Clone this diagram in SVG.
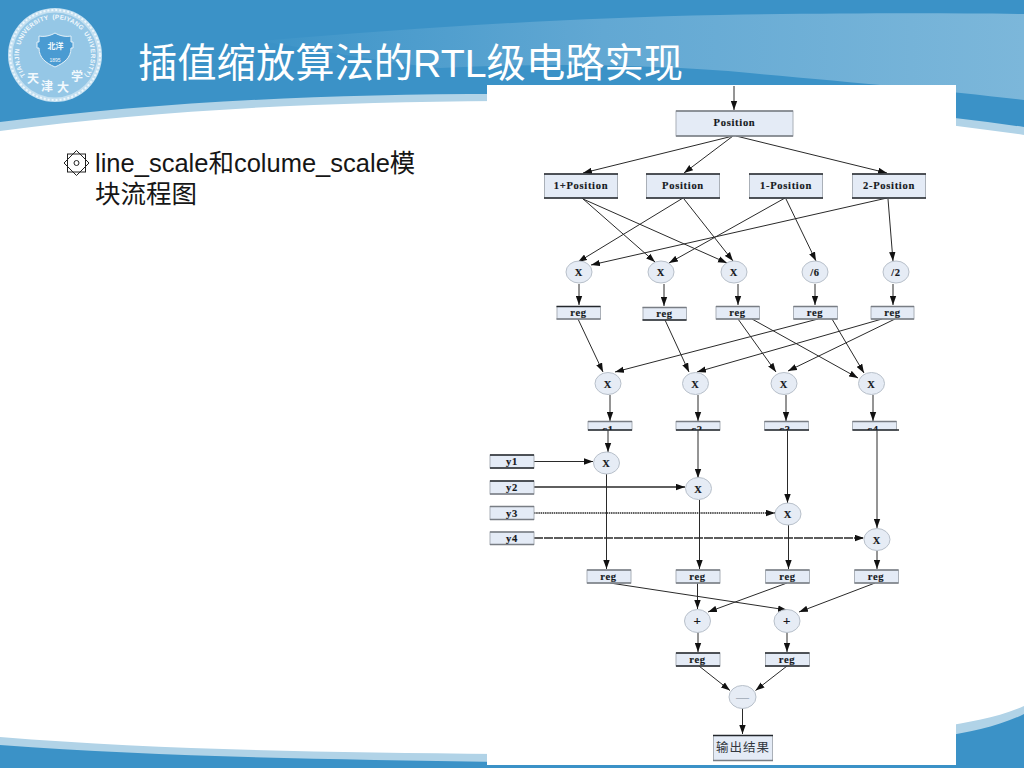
<svg xmlns="http://www.w3.org/2000/svg" width="1024" height="768" viewBox="0 0 1024 768">
<style>
.b{fill:#e4ebf6;stroke:#aab0b8;stroke-width:1}
.e{fill:#e6ecf5;stroke:#b8c0ca;stroke-width:1}
.d{stroke:#23272c;stroke-width:1.6;fill:none}
.g{stroke:#787d84;stroke-width:1.6;fill:none}
.t{font-family:"Liberation Serif","Times New Roman",serif;font-weight:700;fill:#15181c;text-anchor:middle;font-size:10.5px;letter-spacing:.7px;stroke:#15181c;stroke-width:.15}
.c line{stroke:#2a2a2a;stroke-width:1;fill:none;marker-end:url(#a)}
.c .k{stroke-width:1.7}
.c .s{stroke-width:1.6;stroke-dasharray:1.5 .7}
.c .h{stroke-width:1.6;stroke-dasharray:9 1}
.r{font-family:"Liberation Sans",sans-serif;font-size:6.3px;font-weight:700;fill:#f2f9fd}
.z{font-family:"Noto Sans CJK SC",sans-serif;font-size:12px;font-weight:700;fill:#f2f9fd;text-anchor:middle}
</style>
<defs>
<marker id="a" markerUnits="userSpaceOnUse" markerWidth="10" markerHeight="7" refX="9" refY="3.500" orient="auto"><path d="M0 0.300L9 3.500L0 6.700Z" fill="#111"/></marker>
<linearGradient id="sw" x1="0" x2="1" y1="0" y2="0"><stop offset="0" stop-color="#3d94c8"/><stop offset=".45" stop-color="#62a8d3"/><stop offset="1" stop-color="#7cb7da"/></linearGradient>
<path id="r1" d="M25.500 75.600A36 36 0 0 1 19.500 48.700"/>
<path id="r2" d="M20.400 45.100A36 36 0 0 1 48.700 19.500"/>
<path id="r3" d="M52.500 19.100A36 36 0 0 1 81.300 30.400"/>
<path id="r4" d="M83.800 33.300A36 36 0 0 1 84.500 75.600"/>
<clipPath id="cc"><rect x="480" y="418" width="440" height="12"/></clipPath>
</defs>
<g id="background">
<rect width="1024" height="768" fill="#fff"/>
<path d="M0 131C160 110 320 102 500 101C700 100 870 112 1024 135V60H0Z" fill="#b1d3e7"/>
<path d="M0 122C160 102 320 94 500 94C700 94 870 105 1024 127V0H0Z" fill="#3b92c7"/>
<path d="M260 41C420 28 560 18 720 15C840 13 940 13 1024 14V100C950 91 860 83 760 74C680 66 560 62 440 68C380 62 320 50 260 41Z" fill="url(#sw)"/>
<path d="M0 737C160 750 320 752 500 754V768H0Z" fill="#b1d3e7"/>
<path d="M0 745C160 757 320 759 500 762V768H0Z" fill="#3b92c7"/>
<path d="M940 727C970 722 1000 717 1024 706V768H940Z" fill="#b1d3e7"/>
<path d="M940 737C970 732 1000 726 1024 714V768H940Z" fill="#3b92c7"/>
<rect x="487" y="765" width="470" height="3" fill="#3b92c7"/>
</g>
<g id="logo">
<circle cx="55" cy="55" r="47" fill="#c4e0f1"/>
<circle cx="55" cy="55" r="45" fill="none" stroke="#eef7fc" stroke-width="2" stroke-dasharray="2 2"/>
<circle cx="55" cy="55" r="42.500" fill="#95c7e6"/>
<text class="r"><textPath href="#r1" textLength="28">TIANJIN</textPath></text>
<text class="r"><textPath href="#r2" textLength="40">UNIVERSITY</textPath></text>
<text class="r"><textPath href="#r3" textLength="32">(PEIYANG</textPath></text>
<text class="r"><textPath href="#r4" textLength="45">UNIVERSITY)</textPath></text>
<path d="M55 33C60 36 66 37 71 36V42H73V48H71C71 58 64 63 55 67C46 63 39 58 39 48H37V42H39V36C44 37 50 36 55 33Z" fill="#4a9bd2" stroke="#e4f1f9" stroke-width="1"/>
<text x="55.500" y="49" font-family="Noto Sans CJK SC,sans-serif" font-size="8" font-weight="700" fill="#f2f9fd" text-anchor="middle">北洋</text>
<text x="55" y="62" font-family="Liberation Sans,sans-serif" font-size="5" fill="#f2f9fd" text-anchor="middle">1895</text>
<text class="z" x="33" y="83">天</text><text class="z" x="47" y="91">津</text><text class="z" x="63" y="92">大</text><text class="z" x="77" y="81">学</text>
</g>
<text id="title" x="138" y="77" font-family="Liberation Sans,Noto Sans CJK SC,sans-serif" font-size="39.300" fill="#fff">插值缩放算法的RTL级电路实现</text>
<g id="bullet" fill="none" stroke="#222" stroke-width="1">
<path d="M76.500 150.500L89 163L76.500 175.500L64 163Z"/>
<rect x="67.500" y="154" width="18" height="18"/>
<circle cx="76.500" cy="163" r="2.500"/>
</g>
<text id="body" font-family="Liberation Sans,Noto Sans CJK SC,sans-serif" font-size="25.500" fill="#161616"><tspan x="95" y="172">line_scale和colume_scale模</tspan><tspan x="95" y="203">块流程图</tspan></text>
<rect id="panel" x="487" y="85" width="469" height="680" fill="#fff"/>
<g id="connectors" class="c">
<line x1="734" y1="86" x2="734" y2="110"/>
<line x1="733" y1="136" x2="583" y2="173"/>
<line x1="733" y1="136" x2="684" y2="173"/>
<line x1="736" y1="136" x2="887" y2="173"/>
<line x1="582" y1="198" x2="655" y2="262"/>
<line x1="583" y1="199" x2="727" y2="263"/>
<line x1="683" y1="198" x2="578" y2="262"/>
<line x1="684" y1="199" x2="733" y2="261"/>
<line x1="785" y1="198" x2="669" y2="263"/>
<line x1="786" y1="199" x2="816" y2="261"/>
<line x1="887" y1="198" x2="591" y2="265"/>
<line x1="888" y1="199" x2="893" y2="261"/>
<line x1="579" y1="284" x2="579" y2="305"/>
<line x1="664" y1="284" x2="664" y2="306"/>
<line x1="738" y1="284" x2="738" y2="305"/>
<line x1="815" y1="284" x2="815" y2="305"/>
<line x1="893" y1="284" x2="893" y2="305"/>
<line x1="578" y1="319" x2="603" y2="372"/>
<line x1="665" y1="320" x2="689" y2="372"/>
<line x1="738" y1="319" x2="776" y2="372"/>
<line x1="752" y1="319" x2="858" y2="378"/>
<line x1="818" y1="319" x2="615" y2="372"/>
<line x1="832" y1="319" x2="864" y2="373"/>
<line x1="882" y1="319" x2="697" y2="372"/>
<line x1="895" y1="319" x2="788" y2="371"/>
<line x1="610" y1="395" x2="610" y2="421"/>
<line x1="698" y1="395" x2="698" y2="421"/>
<line x1="786" y1="395" x2="786" y2="421"/>
<line x1="873" y1="395" x2="873" y2="421"/>
<line x1="608" y1="430" x2="608" y2="452"/>
<line x1="698" y1="430" x2="698" y2="478"/>
<line x1="787.500" y1="430" x2="787.500" y2="503"/>
<line x1="877" y1="430" x2="877" y2="528"/>
<line x1="534" y1="461.500" x2="593" y2="461.500"/>
<line class="k" x1="534" y1="487" x2="685" y2="487"/>
<line class="s" x1="534" y1="513" x2="775" y2="513"/>
<line class="h" x1="534" y1="538" x2="864" y2="538"/>
<line x1="606.500" y1="474" x2="606.500" y2="569"/>
<line x1="699.500" y1="500" x2="699.500" y2="569"/>
<line x1="788.500" y1="525" x2="788.500" y2="569"/>
<line x1="877" y1="551" x2="877" y2="569"/>
<line x1="610" y1="583" x2="787" y2="610"/>
<line x1="697.500" y1="583" x2="697.500" y2="609"/>
<line x1="787" y1="583" x2="708" y2="612"/>
<line x1="875" y1="583" x2="799" y2="612"/>
<line x1="698" y1="632" x2="698" y2="652"/>
<line x1="787" y1="632" x2="787" y2="652"/>
<line x1="699" y1="666" x2="730" y2="690.500"/>
<line x1="787" y1="666" x2="755.500" y2="690.500"/>
<line x1="742.500" y1="708" x2="742.500" y2="734"/>
</g>
<g id="n-position-top"><rect class="b" x="676" y="111" width="117" height="25"/><path class="g" d="M676 111H793M676 136H793"/><text class="t" x="734.500" y="126">Position</text></g>
<g id="n-1plus"><rect class="b" x="544.500" y="174" width="73" height="24"/><path class="d" d="M544 174H618M544 198H618"/><text class="t" x="581" y="188.500">1+Position</text></g>
<g id="n-position"><rect class="b" x="646.500" y="174" width="73" height="24"/><path class="d" d="M646 174H720M646 198H720"/><text class="t" x="683" y="188.500">Position</text></g>
<g id="n-1minus"><rect class="b" x="749.500" y="174" width="73" height="24"/><path class="d" d="M749 174H823M749 198H823"/><text class="t" x="786" y="188.500">1-Position</text></g>
<g id="n-2minus"><rect class="b" x="852.500" y="174" width="73" height="24"/><path class="d" d="M852 174H926M852 198H926"/><text class="t" x="889" y="188.500">2-Position</text></g>
<g id="n-m1"><ellipse class="e" cx="579" cy="272" rx="13" ry="11"/><text class="t" x="579" y="276">X</text></g>
<g id="n-m2"><ellipse class="e" cx="661" cy="272" rx="13" ry="11"/><text class="t" x="661" y="276">X</text></g>
<g id="n-m3"><ellipse class="e" cx="734" cy="272" rx="13" ry="11"/><text class="t" x="734" y="276">X</text></g>
<g id="n-d6"><ellipse class="e" cx="815" cy="272" rx="13" ry="11"/><text class="t" x="815" y="276">/6</text></g>
<g id="n-d2"><ellipse class="e" cx="896" cy="272" rx="13" ry="11"/><text class="t" x="896" y="276">/2</text></g>
<g id="n-r1"><rect class="b" x="557" y="306.500" width="43.500" height="12.500"/><path class="d" d="M556.500 306.500H600.500"/><path class="g" d="M556.500 319H600.500"/><text class="t" x="578.500" y="316">reg</text></g>
<g id="n-r2"><rect class="b" x="643" y="307.500" width="43.500" height="12.500"/><path class="g" d="M642.500 307.500H686.500"/><path class="d" d="M642.500 320H686.500"/><text class="t" x="664.500" y="317">reg</text></g>
<g id="n-r3"><rect class="b" x="716" y="306.500" width="43.500" height="12.500"/><path class="g" d="M716 306.500H759.500M716 319H759.500"/><text class="t" x="737.500" y="316">reg</text></g>
<g id="n-r4"><rect class="b" x="793.500" y="306.500" width="44" height="12.500"/><path class="g" d="M793.500 306.500H837.500M793.500 319H837.500"/><text class="t" x="815" y="316">reg</text></g>
<g id="n-r5"><rect class="b" x="871" y="306.500" width="43" height="12.500"/><path class="g" d="M871 306.500H914M871 319H914"/><text class="t" x="892.500" y="316">reg</text></g>
<g id="n-x1"><ellipse class="e" cx="608" cy="383.500" rx="13" ry="11"/><text class="t" x="608" y="387.500">X</text></g>
<g id="n-x2"><ellipse class="e" cx="695.500" cy="383.500" rx="13" ry="11"/><text class="t" x="695.500" y="387.500">X</text></g>
<g id="n-x3"><ellipse class="e" cx="784" cy="383.500" rx="13" ry="11"/><text class="t" x="784" y="387.500">X</text></g>
<g id="n-x4"><ellipse class="e" cx="871.500" cy="383.500" rx="13" ry="11"/><text class="t" x="871.500" y="387.500">X</text></g>
<g id="n-c1"><rect class="b" x="588" y="421.500" width="44" height="8.500"/><path class="g" d="M588 421.500H632"/><path class="d" d="M588 430H632"/><text class="t" x="608" y="433" clip-path="url(#cc)">c1</text></g>
<g id="n-c2"><rect class="b" x="676" y="421.500" width="44" height="8.500"/><path class="g" d="M676 421.500H720"/><path class="d" d="M676 430H720"/><text class="t" x="697" y="433" clip-path="url(#cc)">c2</text></g>
<g id="n-c3"><rect class="b" x="764.500" y="421.500" width="44" height="8.500"/><path class="g" d="M764.500 421.500H808.500"/><path class="d" d="M764.500 430H809"/><text class="t" x="785" y="433" clip-path="url(#cc)">c3</text></g>
<g id="n-c4"><rect class="b" x="852.500" y="421.500" width="44" height="8.500"/><path class="g" d="M852.500 421.500H896.500"/><path class="d" d="M852.500 430H899"/><text class="t" x="873" y="433" clip-path="url(#cc)">c4</text></g>
<g id="n-y1"><rect class="b" x="490" y="455" width="44" height="13"/><path class="d" d="M490 455H534M490 468H534"/><text class="t" x="512" y="465">y1</text></g>
<g id="n-y2"><rect class="b" x="490" y="481" width="44" height="13"/><path class="d" d="M490 481H534"/><path class="g" d="M490 494H534"/><text class="t" x="512" y="491">y2</text></g>
<g id="n-y3"><rect class="b" x="490" y="506.500" width="44" height="13"/><path class="g" d="M490 506.500H534M490 519.500H534"/><text class="t" x="512" y="516.500">y3</text></g>
<g id="n-y4"><rect class="b" x="490" y="532" width="44" height="12.500"/><path class="g" d="M490 532H534M490 544.500H534"/><text class="t" x="512" y="542">y4</text></g>
<g id="n-p1"><ellipse class="e" cx="606.500" cy="463" rx="13" ry="11"/><text class="t" x="606.500" y="467">X</text></g>
<g id="n-p2"><ellipse class="e" cx="698.500" cy="488.500" rx="13" ry="11"/><text class="t" x="698.500" y="492.500">X</text></g>
<g id="n-p3"><ellipse class="e" cx="788" cy="514" rx="13" ry="11"/><text class="t" x="788" y="518">X</text></g>
<g id="n-p4"><ellipse class="e" cx="877" cy="539.500" rx="13" ry="11"/><text class="t" x="877" y="543.500">X</text></g>
<g id="n-q1"><rect class="b" x="587" y="570" width="44" height="13"/><path class="g" d="M587 570H631M587 583H631"/><text class="t" x="608.500" y="580">reg</text></g>
<g id="n-q2"><rect class="b" x="676" y="570" width="44" height="13"/><path class="g" d="M676 570H720M676 583H720"/><text class="t" x="697.500" y="580">reg</text></g>
<g id="n-q3"><rect class="b" x="765.500" y="570" width="44" height="13"/><path class="g" d="M765.500 570H809.500M765.500 583H809.500"/><text class="t" x="787.500" y="580">reg</text></g>
<g id="n-q4"><rect class="b" x="854.500" y="570" width="44" height="13"/><path class="g" d="M854.500 570H898.500M854.500 583H898.500"/><text class="t" x="876" y="580">reg</text></g>
<g id="n-a1"><ellipse class="e" cx="697.500" cy="621" rx="13" ry="11.500"/><text class="t" x="697.500" y="625" style="font-size:13px">+</text></g>
<g id="n-a2"><ellipse class="e" cx="787" cy="621" rx="13" ry="11.500"/><text class="t" x="787" y="625" style="font-size:13px">+</text></g>
<g id="n-s1"><rect class="b" x="676" y="653" width="44" height="13"/><path class="d" d="M676 653H720M676 666H720"/><text class="t" x="697.500" y="663">reg</text></g>
<g id="n-s2"><rect class="b" x="765.500" y="653" width="44" height="13"/><path class="d" d="M765 653H809.500M765 666H809.500"/><text class="t" x="787" y="663">reg</text></g>
<g id="n-minus"><ellipse class="e" cx="742.500" cy="697" rx="13.500" ry="11.500"/><text x="742.500" y="701" font-family="Liberation Serif,serif" font-size="13" fill="#7d8896" text-anchor="middle">—</text></g>
<g id="n-out"><rect class="b" x="713.500" y="735.500" width="59" height="25"/><path class="d" d="M713 735.500H773"/><path class="g" d="M713 760.500H773"/><text x="743" y="752" font-family="Noto Sans CJK SC,sans-serif" font-size="12.500" fill="#33383f" text-anchor="middle" letter-spacing="1">输出结果</text></g>
</svg>
